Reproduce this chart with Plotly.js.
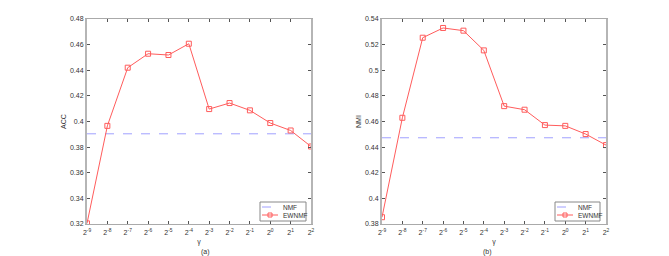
<!DOCTYPE html>
<html><head><meta charset="utf-8">
<script src="https://cdn.plot.ly/plotly-3.0.1.min.js"></script>
<style>html,body{margin:0;padding:0;background:#fff}#chart{width:669px;height:256px}</style>
</head><body><div id="chart"></div>
<script>
const gammaExp = [-9,-8,-7,-6,-5,-4,-3,-2,-1,0,1,2];
const tickLabels = gammaExp.map(e => '2<sup>' + e + '</sup>');
const accEWNMF = [0.3205,0.3966,0.4420,0.4529,0.4519,0.4607,0.4097,0.4144,0.4087,0.3988,0.3930,0.3805];
const accNMF = 0.3904;
const nmiEWNMF = [0.3853,0.4629,0.5254,0.5330,0.5309,0.5155,0.4720,0.4692,0.4572,0.4566,0.4502,0.4416];
const nmiNMF = 0.4473;
const seriesNames = ['NMF','EWNMF'];

const W = 669, H = 256;
const red = '#ff5c5c', blue = '#a0a0ff';
const fnt = {family:'Liberation Sans, Arial, sans-serif', size:7, color:'#333'};

function nmfTrace(v, xa, ya){
  return {x:[gammaExp[0], gammaExp[gammaExp.length-1]], y:[v,v], xaxis:xa, yaxis:ya,
    mode:'lines', name:seriesNames[0], line:{color:blue, width:1, dash:'dash'}};
}
function ewTrace(ys, xa, ya){
  return {x:gammaExp, y:ys, xaxis:xa, yaxis:ya, mode:'lines+markers', name:seriesNames[1],
    line:{color:red, width:1}, marker:{symbol:'square-open', size:5, color:red, line:{width:1}}};
}
const traces = [
  nmfTrace(accNMF,'x','y'), ewTrace(accEWNMF,'x','y'),
  nmfTrace(nmiNMF,'x2','y2'), ewTrace(nmiEWNMF,'x2','y2')
];
function xax(dom, anchor){
  return {domain:dom, anchor:anchor, range:[-9,2], tickvals:gammaExp, ticktext:tickLabels,
    ticks:'inside', ticklen:3, tickcolor:'#555', mirror:'allticks', showline:true, linecolor:'#aaa', linewidth:1,
    showgrid:false, zeroline:false, tickfont:fnt, ticklabelstandoff:2,
    title:{text:'γ', font:fnt, standoff:3}};
}
function yax(dom, anchor, range, dtick, title){
  return {domain:dom, anchor:anchor, range:range, dtick:dtick, tick0:0,
    ticks:'inside', ticklen:3, tickcolor:'#555', mirror:'allticks', showline:true, linecolor:'#b5b5b5', linewidth:2,
    showgrid:false, zeroline:false, tickfont:fnt, tickformat:'~g',
    title:{text:title, font:fnt, standoff:3}};
}
const yd = [1-224/H, 1-19/H];
const px = v => v / W, py = v => 1 - v / H;

// custom legend boxes (pixel layout)
function legendParts(x0, x1, y0, y1){
  const ya = 207, yb = 215, lx0 = x0 + 2, lx1 = x0 + 18, tx = x0 + 21;
  const shapes = [
    {type:'rect', xref:'paper', yref:'paper', x0:px(x0), x1:px(x1), y0:py(y1), y1:py(y0),
      line:{color:'#888', width:1}, fillcolor:'#fff', layer:'above'},
    {type:'line', xref:'paper', yref:'paper', x0:px(lx0), x1:px(lx1), y0:py(ya), y1:py(ya),
      line:{color:blue, width:1, dash:'dash'}, layer:'above'},
    {type:'line', xref:'paper', yref:'paper', x0:px(lx0), x1:px(lx1), y0:py(yb), y1:py(yb),
      line:{color:red, width:1}, layer:'above'},
    {type:'rect', xref:'paper', yref:'paper', x0:px((lx0+lx1)/2-2), x1:px((lx0+lx1)/2+2), y0:py(yb+2), y1:py(yb-2),
      line:{color:red, width:1}, fillcolor:'rgba(0,0,0,0)', layer:'above'}
  ];
  const anns = [
    {text:seriesNames[0], x:px(tx), y:py(ya), xref:'paper', yref:'paper', xanchor:'left', yanchor:'middle',
      showarrow:false, font:{family:fnt.family, size:6.5, color:'#333'}},
    {text:seriesNames[1], x:px(tx), y:py(yb), xref:'paper', yref:'paper', xanchor:'left', yanchor:'middle',
      showarrow:false, font:{family:fnt.family, size:6.5, color:'#333'}}
  ];
  return {shapes, anns};
}
const lgA = legendParts(260, 306, 202, 221);
const lgB = legendParts(555, 600, 202, 221);

const layout = {
  width:W, height:H, margin:{l:0,r:0,t:0,b:0}, paper_bgcolor:'#fff', plot_bgcolor:'#fff',
  showlegend:false, font:fnt,
  xaxis: xax([87/W, 311/W], 'y'),
  yaxis: yax(yd, 'x', [0.32,0.48], 0.02, 'ACC'),
  xaxis2: xax([382/W, 606/W], 'y2'),
  yaxis2: yax(yd, 'x2', [0.38,0.54], 0.02, 'NMI'),
  shapes: lgA.shapes.concat(lgB.shapes),
  annotations: [
    {text:'(a)', x:(87+311)/2/W, y:py(252), xref:'paper', yref:'paper', yanchor:'middle', showarrow:false, font:fnt},
    {text:'(b)', x:(382+606)/2/W, y:py(252), xref:'paper', yref:'paper', yanchor:'middle', showarrow:false, font:fnt}
  ].concat(lgA.anns, lgB.anns)
};
Plotly.newPlot('chart', traces, layout, {staticPlot:true, displayModeBar:false});
</script></body></html>
